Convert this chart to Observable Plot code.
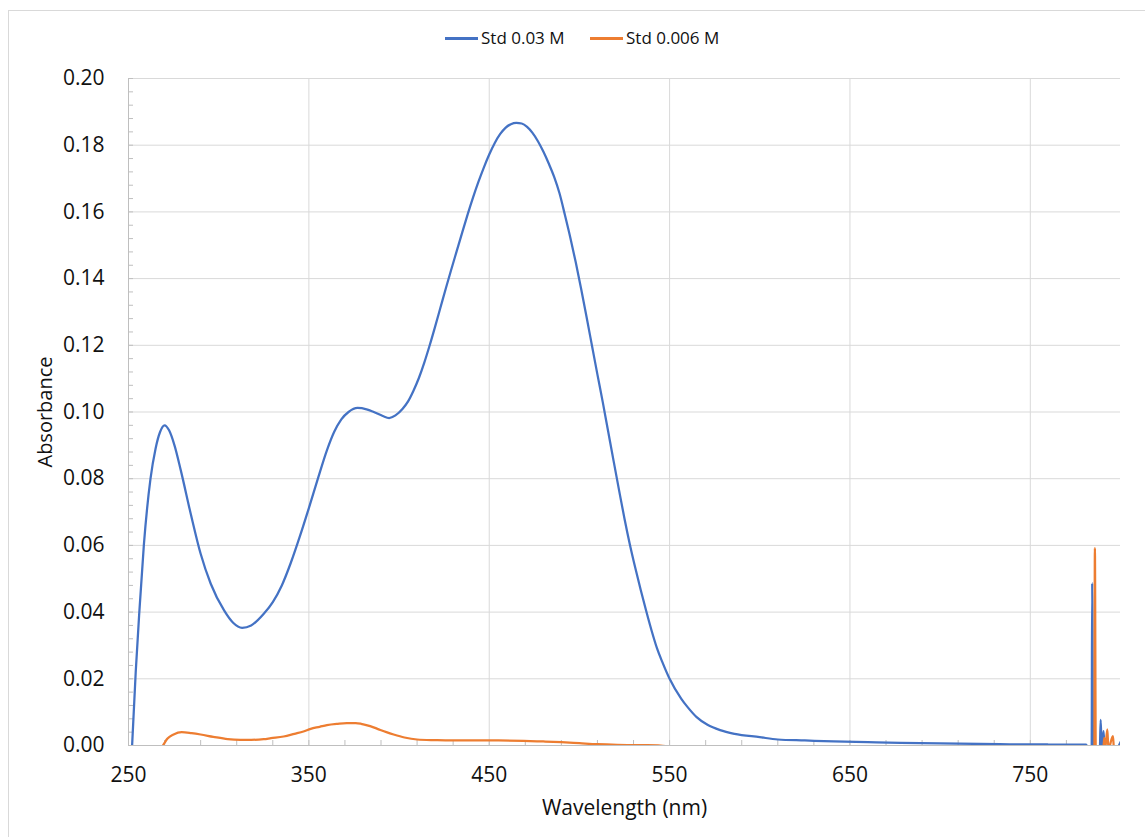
<!DOCTYPE html>
<html><head><meta charset="utf-8">
<script src="https://cdn.jsdelivr.net/npm/d3@7"></script>
<script src="https://cdn.jsdelivr.net/npm/@observablehq/plot@0.6"></script>
<style>
html,body{margin:0;padding:0;background:#fff;overflow:hidden;}
#wrap{position:relative;width:1145px;height:837px;font-family:"Open Sans",sans-serif;overflow:hidden;}
#frame{position:absolute;left:8px;top:10px;width:1200px;height:900px;border:1px solid #d9d9d9;box-sizing:border-box;pointer-events:none;}
#legend{position:relative;height:60px;}
.item{position:absolute;top:27px;height:22px;display:flex;align-items:center;font-size:17px;color:#111;line-height:22px;}
.sw{width:33px;height:3px;margin-right:3px;}
#chart{position:absolute;top:60px;left:0;}
</style></head>
<body>
<div id="wrap">
  <div id="legend"></div>
  <div id="chart"></div>
  <div id="frame"></div>
</div>
<script>
// ---- data ----
const seriesNames = ["Std 0.03 M", "Std 0.006 M"];
const seriesColors = ["#4472C4", "#ED7D31"];

const blueWl = [252.0,254.0,256.0,258.5,262.2,265.0,267.5,270.0,272.5,275.5,279.0,284.5,290.0,295.6,303.0,308.0,313.0,318.0,325.0,330.0,335.0,340.0,345.0,350.0,355.0,360.0,364.0,368.0,372.0,377.0,382.0,386.0,391.0,394.5,398.0,402.0,405.0,408.0,411.0,414.0,417.0,420.0,423.0,426.0,429.0,432.0,435.0,438.0,441.0,444.0,447.0,450.0,453.0,456.0,459.0,462.0,465.0,468.0,471.0,474.0,477.0,480.0,483.0,486.0,489.0,492.0,495.0,498.0,501.0,504.0,507.0,510.0,513.0,516.0,519.0,522.0,525.0,528.0,531.0,534.0,537.0,540.0,543.0,546.0,550.0,556.5,560.0,565.0,571.0,578.0,586.0,600.0,610.0,625.0,641.0,660.0,678.0,700.0,733.0,760.0,781.0,782.5,784.0,784.3,784.8,788.5,789.0,789.6,790.6,791.2,797.5,800.0];
const blueAbs = [0.000,0.022,0.040,0.060,0.080,0.089,0.094,0.096,0.0945,0.090,0.0825,0.0695,0.0575,0.0485,0.0405,0.0368,0.0353,0.0360,0.0395,0.0430,0.0480,0.0548,0.0627,0.0712,0.0800,0.0885,0.0940,0.0978,0.1000,0.1012,0.1008,0.1000,0.0988,0.0982,0.0990,0.1010,0.1032,0.1064,0.1102,0.1148,0.1200,0.1256,0.1314,0.1372,0.1428,0.1483,0.1538,0.1592,0.1643,0.1690,0.1733,0.1772,0.1806,0.1833,0.1852,0.1863,0.1867,0.1865,0.1855,0.1837,0.1812,0.1781,0.1745,0.1705,0.1655,0.1590,0.1522,0.1448,0.1368,0.1284,0.1198,0.1112,0.1028,0.0940,0.0852,0.0765,0.0680,0.0602,0.0532,0.0466,0.0404,0.0345,0.0292,0.0250,0.0200,0.0140,0.0115,0.0085,0.0062,0.0046,0.0035,0.0025,0.0018,0.0015,0.0012,0.0010,0.0008,0.0006,0.0004,0.0003,0.0003,-0.002,-0.002,0.0487,-0.002,-0.002,0.0077,-0.001,0.0043,-0.001,-0.001,0.001];

const orangeWl = [268.0,270.0,271.5,275.0,279.5,285.0,290.0,297.0,305.0,312.0,318.0,325.0,329.0,336.0,342.0,347.0,351.0,356.0,360.0,366.0,371.0,376.0,379.0,384.0,388.0,393.0,397.0,403.0,410.0,420.0,429.0,440.0,455.0,469.0,480.0,490.0,500.0,510.0,521.0,535.0,545.0,550.0,556.0,600.0,700.0,785.5,785.8,786.3,790.5,791.0,791.5,792.7,793.3,795.8,796.4,800.0];
const orangeAbs = [-0.001,0.0008,0.002,0.0033,0.0040,0.0037,0.0033,0.0026,0.0019,0.0017,0.0017,0.0019,0.0022,0.0027,0.0035,0.0042,0.0050,0.0056,0.0061,0.0065,0.0067,0.0067,0.0065,0.0058,0.0050,0.0040,0.0033,0.0024,0.0018,0.0016,0.0015,0.0015,0.0015,0.0014,0.0012,0.0010,0.0007,0.0004,0.0002,0.0001,0.0000,-0.0004,-0.001,-0.002,-0.002,-0.002,0.0592,-0.002,-0.001,0.0023,-0.001,0.0048,-0.001,0.0028,-0.001,-0.002];

const xDomain = [250, 800];
const yDomain = [0, 0.2];
const xTickLabels = [250, 350, 450, 550, 650, 750];
const xGridLines = [350, 450, 550, 650, 750];
const xMinorTicks = [250,270,290,310,330,350,370,390,410,430,450,470,490,510,530,550,570,590,610,630,650,670,690,710,730,750,770,790];
const yTickLabels = [0,0.02,0.04,0.06,0.08,0.10,0.12,0.14,0.16,0.18,0.20];
const yGridLines = [0.02,0.04,0.06,0.08,0.10,0.12,0.14,0.16,0.18,0.20];
const yMinorTicks = [0,0.004,0.008,0.012,0.016,0.02,0.024,0.028,0.032,0.036,0.04,0.044,0.048,0.052,0.056,0.06,0.064,0.068,0.072,0.076,0.08,0.084,0.088,0.092,0.096,0.1,0.104,0.108,0.112,0.116,0.12,0.124,0.128,0.132,0.136,0.14,0.144,0.148,0.152,0.156,0.16,0.164,0.168,0.172,0.176,0.18,0.184,0.188,0.192,0.196,0.2];
const xTitle = "Wavelength (nm)";
const yTitle = "Absorbance";

// ---- build ----
const blue = blueWl.map((w, i) => ({wl: w, abs: blueAbs[i]}));
const orange = orangeWl.map((w, i) => ({wl: w, abs: orangeAbs[i]}));

// legend
const legend = document.getElementById("legend");
const legendLefts = [445, 590];
seriesNames.forEach((n, i) => {
  const it = document.createElement("div");
  it.className = "item";
  it.style.left = legendLefts[i] + "px";
  it.innerHTML = `<span class="sw" style="background:${seriesColors[i]}"></span><span>${n}</span>`;
  legend.appendChild(it);
});

const gridColor = "#d9d9d9";
const axisColor = "#bfbfbf";

const chart = Plot.plot({
  width: 1145,
  height: 777,
  marginTop: 18,
  marginBottom: 92,
  marginLeft: 128,
  marginRight: 25,
  style: {fontFamily: '"Open Sans", sans-serif', fontSize: "21px", color: "#111", background: "transparent"},
  x: {domain: xDomain},
  y: {domain: yDomain},
  marks: [
    Plot.ruleY(yGridLines, {stroke: gridColor, strokeWidth: 1}),
    Plot.ruleX(xGridLines, {stroke: gridColor, strokeWidth: 1}),
    Plot.ruleX(xMinorTicks, {y1: () => yDomain[0], y2: () => yDomain[0], insetTop: -5, stroke: axisColor}),
    Plot.ruleY(yMinorTicks, {x1: () => xDomain[0], x2: () => xDomain[0], insetRight: -5, stroke: axisColor}),
    Plot.ruleX([xDomain[0]], {stroke: axisColor}),
    Plot.ruleY([yDomain[0]], {stroke: axisColor}),
    Plot.line(blue, {x: "wl", y: "abs", stroke: seriesColors[0], strokeWidth: 2.25, curve: "monotone-x", clip: true}),
    Plot.line(orange, {x: "wl", y: "abs", stroke: seriesColors[1], strokeWidth: 2.25, curve: "monotone-x", clip: true}),
    Plot.axisX({ticks: xTickLabels, tickSize: 0, tickPadding: 22, tickFormat: d => String(d), label: null, fontSize: 21}),
    Plot.axisY({ticks: yTickLabels, tickSize: 0, tickPadding: 24, tickFormat: d3.format(".2f"), label: null, fontSize: 21}),
    Plot.text([xTitle], {text: d => d, frameAnchor: "bottom", textAnchor: "middle", lineAnchor: "middle", dy: 63, fontSize: 21, fill: "#111"}),
    Plot.text([yTitle], {text: d => d, frameAnchor: "left", textAnchor: "middle", lineAnchor: "middle", dx: -83, rotate: -90, fontSize: 20, fill: "#111"})
  ]
});
document.getElementById("chart").appendChild(chart);
</script>
</body></html>
